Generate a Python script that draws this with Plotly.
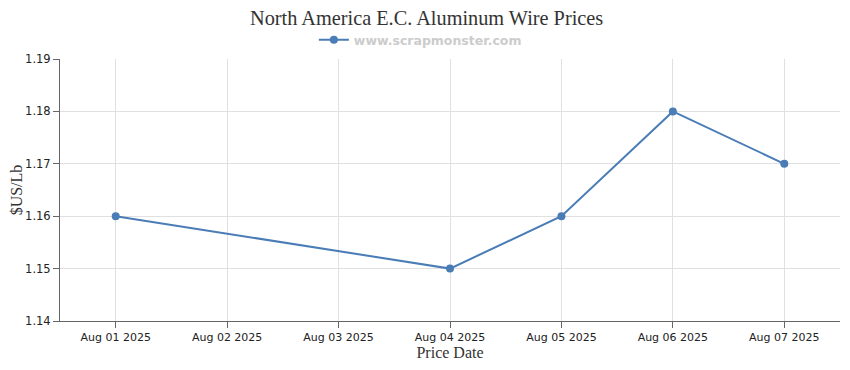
import plotly.graph_objects as go

dates = ["2025-08-01", "2025-08-04", "2025-08-05", "2025-08-06", "2025-08-07"]
prices = [1.16, 1.15, 1.16, 1.18, 1.17]
tick_dates = ["2025-08-01", "2025-08-02", "2025-08-03", "2025-08-04", "2025-08-05", "2025-08-06", "2025-08-07"]
tick_labels = ["Aug 01 2025", "Aug 02 2025", "Aug 03 2025", "Aug 04 2025", "Aug 05 2025", "Aug 06 2025", "Aug 07 2025"]
y_ticks = [1.14, 1.15, 1.16, 1.17, 1.18, 1.19]

fig = go.Figure()
fig.add_trace(go.Scatter(
    x=dates, y=prices, mode="lines+markers", name="www.scrapmonster.com",
    line=dict(color="#4A7CB6", width=2),
    marker=dict(color="#4A7CB6", size=8, symbol="circle"),
))

fig.update_layout(
    width=850, height=370,
    margin=dict(l=52, r=18, t=51, b=57, autoexpand=False),
    paper_bgcolor="white", plot_bgcolor="white",
    title=dict(text="North America E.C. Aluminum Wire Prices", x=0.4925, xanchor="center",
               y=0.972, yanchor="middle",
               font=dict(family="Liberation Serif", size=20.3, color="#333333")),
    showlegend=True,
    legend=dict(orientation="h", x=0.462, xanchor="center", y=1.0725, yanchor="middle",
                font=dict(family="DejaVu Sans", size=12.5, color="#cccccc", weight="bold"),
                itemwidth=30),
    xaxis=dict(type="date", range=["2025-07-31 12:00", "2025-08-07 12:00"],
               tickmode="array", tickvals=tick_dates, ticktext=tick_labels,
               automargin=False,
               showgrid=True, gridcolor="#e0e0e0", showline=True, linecolor="#666666",
               ticks="outside", ticklen=6, tickcolor="#666666",
               tickfont=dict(family="DejaVu Sans", size=11, color="#222222"),
               title=dict(text="Price Date", standoff=2,
                          font=dict(family="Liberation Serif", size=16, color="#333333"))),
    yaxis=dict(range=[1.14, 1.19], tickmode="array", tickvals=y_ticks,
               tickformat=".2f", automargin=False,
               showgrid=True, gridcolor="#e0e0e0", showline=True, linecolor="#666666",
               ticks="outside", ticklen=6, tickcolor="#666666", zeroline=False,
               tickfont=dict(family="DejaVu Sans", size=11.5, color="#222222"),
               title=dict(text="$US/Lb", standoff=4,
                          font=dict(family="Liberation Serif", size=16, color="#333333"))),
)

fig.write_html("out.html")
